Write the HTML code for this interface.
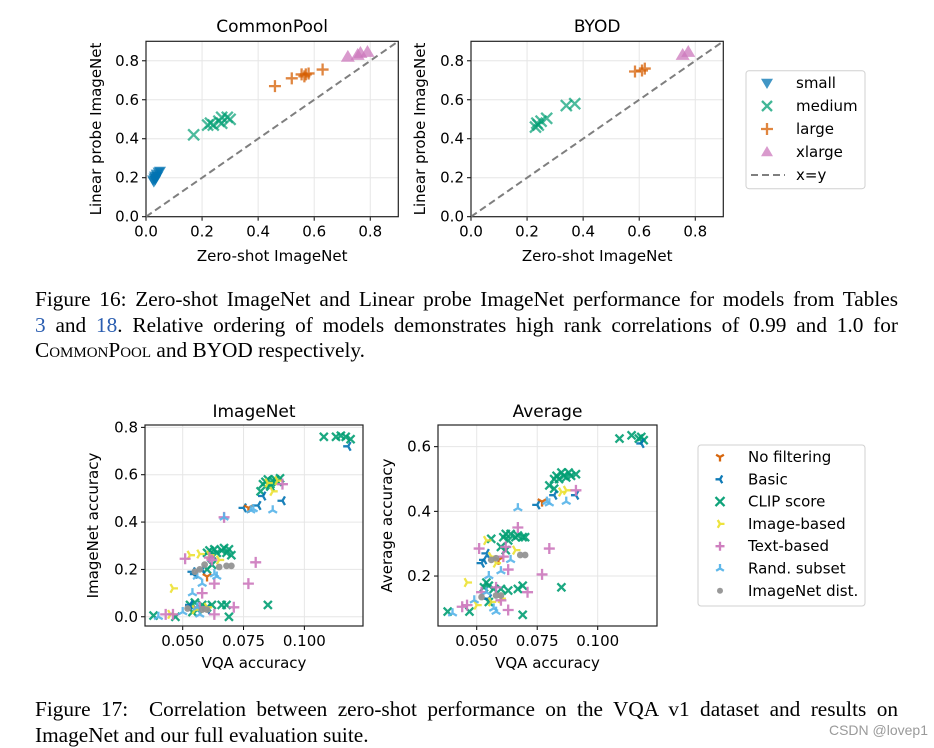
<!DOCTYPE html>
<html><head><meta charset="utf-8">
<style>
html,body{margin:0;padding:0;background:#fff;}
body{width:934px;height:745px;position:relative;overflow:hidden;}
svg{position:absolute;left:0;top:0;}
.cap{position:absolute;left:35px;width:863px;font-family:"Liberation Serif",serif;font-size:21.3px;color:#000;line-height:25.5px;}
.ln{display:block;white-space:nowrap;text-align:justify;text-align-last:justify;}
.ll{display:block;white-space:nowrap;}
.ref{color:#2a5db0;}
.sc{font-variant:small-caps;}
.wm{position:absolute;right:6px;top:722px;font-family:"Liberation Sans",sans-serif;font-size:14px;color:#9a9a9a;}
</style></head><body>
<svg id="fig" width="934" height="745" font-family="DejaVu Sans, Liberation Sans, sans-serif"></svg>
<div class="cap" style="top:287px"><span class="ln">Figure 16: Zero-shot ImageNet and Linear probe ImageNet performance for models from Tables</span><span class="ln"><span class="ref">3</span> and <span class="ref">18</span>. Relative ordering of models demonstrates high rank correlations of 0.99 and 1.0 for</span><span class="ll"><span class="sc">CommonPool</span> and BYOD respectively.</span></div>
<div class="cap" style="top:697px"><span class="ln">Figure 17: &nbsp;Correlation between zero-shot performance on the VQA v1 dataset and results on</span><span class="ll">ImageNet and our full evaluation suite.</span></div>
<div class="wm">CSDN @lovep1</div>
<script>
// ---------- Figure 16 data ----------
const cpSmallX=[0.025,0.028,0.03,0.032,0.035,0.038,0.04,0.045,0.05,0.033];
const cpSmallY=[0.19,0.18,0.2,0.21,0.2,0.22,0.21,0.23,0.235,0.19];
const cpMedX=[0.17,0.22,0.23,0.24,0.26,0.27,0.27,0.29,0.30];
const cpMedY=[0.42,0.47,0.48,0.47,0.49,0.48,0.51,0.51,0.50];
const cpLargeX=[0.46,0.52,0.555,0.565,0.57,0.58,0.63];
const cpLargeY=[0.67,0.71,0.73,0.72,0.73,0.735,0.755];
const cpXlX=[0.72,0.755,0.765,0.79];
const cpXlY=[0.82,0.83,0.84,0.845];
const byMedX=[0.23,0.235,0.24,0.25,0.27,0.34,0.37];
const byMedY=[0.46,0.48,0.47,0.49,0.505,0.57,0.58];
const byLargeX=[0.585,0.61,0.62];
const byLargeY=[0.745,0.75,0.76];
const byXlX=[0.755,0.775];
const byXlY=[0.83,0.845];
const topTicks=[0.0,0.2,0.4,0.6,0.8];
const topTickLabels=["0.0","0.2","0.4","0.6","0.8"];
// ---------- Figure 17 data (ImageNet) ----------
const inClipX=[0.108,0.113,0.115,0.117,0.119,0.082,0.083,0.084,0.085,0.086,0.087,0.088,0.089,0.09,0.086,0.060,0.061,0.062,0.063,0.064,0.066,0.067,0.068,0.069,0.070,0.062,0.060,0.053,0.055,0.056,0.058,0.060,0.062,0.066,0.068,0.038,0.047,0.069,0.085,0.054];
const inClipY=[0.76,0.76,0.765,0.76,0.75,0.53,0.56,0.57,0.58,0.56,0.575,0.58,0.57,0.585,0.55,0.27,0.28,0.26,0.285,0.27,0.28,0.29,0.27,0.285,0.26,0.22,0.2,0.05,0.06,0.03,0.05,0.04,0.05,0.05,0.05,0.005,0.0,0.0,0.05,0.02];
const inBasicX=[0.118,0.091,0.083,0.081,0.075,0.054,0.055,0.058,0.053,0.060];
const inBasicY=[0.72,0.49,0.51,0.47,0.46,0.19,0.18,0.2,0.05,0.03];
const inNoneX=[0.077,0.060];
const inNoneY=[0.46,0.17];
const inImgX=[0.085,0.087,0.089,0.046,0.053,0.057,0.061,0.065,0.055,0.060,0.045];
const inImgY=[0.565,0.53,0.575,0.12,0.26,0.265,0.26,0.24,0.03,0.04,0.01];
const inTextX=[0.091,0.067,0.080,0.077,0.063,0.058,0.051,0.062,0.061,0.063,0.071,0.043,0.046,0.057];
const inTextY=[0.56,0.42,0.23,0.14,0.14,0.1,0.245,0.24,0.25,0.01,0.04,0.01,0.01,0.04];
const inRandX=[0.067,0.078,0.079,0.087,0.056,0.058,0.063,0.064,0.054,0.040,0.050,0.056,0.057];
const inRandY=[0.42,0.45,0.455,0.45,0.17,0.14,0.18,0.17,0.1,0.0,0.02,0.04,0.01];
const inDistX=[0.052,0.058,0.060,0.057,0.059,0.065,0.068,0.070,0.055];
const inDistY=[0.035,0.03,0.03,0.2,0.22,0.21,0.215,0.215,0.19];
// ---------- Figure 17 data (Average) ----------
const avClipX=[0.109,0.114,0.117,0.119,0.118,0.080,0.082,0.083,0.084,0.085,0.086,0.087,0.088,0.089,0.091,0.082,0.056,0.061,0.062,0.063,0.064,0.066,0.067,0.069,0.070,0.060,0.062,0.053,0.055,0.054,0.057,0.060,0.063,0.067,0.069,0.038,0.047,0.069,0.085,0.055];
const avClipY=[0.625,0.635,0.625,0.62,0.63,0.48,0.5,0.51,0.5,0.52,0.51,0.505,0.52,0.51,0.515,0.47,0.315,0.32,0.33,0.31,0.33,0.32,0.325,0.32,0.32,0.29,0.28,0.165,0.17,0.18,0.16,0.16,0.155,0.16,0.17,0.09,0.09,0.08,0.165,0.12];
const avBasicX=[0.118,0.091,0.082,0.075,0.053,0.054,0.052,0.055];
const avBasicY=[0.61,0.45,0.45,0.42,0.25,0.27,0.24,0.13];
const avNoneX=[0.077,0.059];
const avNoneY=[0.43,0.25];
const avImgX=[0.085,0.087,0.046,0.054,0.056,0.058,0.066,0.056,0.060,0.050];
const avImgY=[0.46,0.465,0.18,0.31,0.26,0.24,0.28,0.12,0.13,0.11];
const avTextX=[0.091,0.067,0.080,0.077,0.063,0.063,0.051,0.062,0.061,0.071,0.044,0.046,0.052,0.058,0.060];
const avTextY=[0.465,0.35,0.285,0.205,0.22,0.095,0.285,0.29,0.26,0.15,0.105,0.11,0.15,0.165,0.125];
const avRandX=[0.067,0.079,0.080,0.087,0.055,0.060,0.064,0.054,0.040,0.049,0.057,0.058];
const avRandY=[0.41,0.43,0.425,0.43,0.2,0.215,0.25,0.15,0.085,0.125,0.1,0.09];
const avDistX=[0.052,0.058,0.060,0.056,0.058,0.068,0.070];
const avDistY=[0.135,0.14,0.14,0.25,0.255,0.265,0.265];
const vqaTicks=[0.05,0.075,0.1];
const vqaTickLabels=["0.050","0.075","0.100"];
const inYTicks=[0,0.2,0.4,0.6,0.8];
const inYTickLabels=["0.0","0.2","0.4","0.6","0.8"];
const avYTicks=[0.2,0.4,0.6];
const avYTickLabels=["0.2","0.4","0.6"];

const NS="http://www.w3.org/2000/svg";
const svg=document.getElementById('fig');
function mk(tag,attrs,parent){const e=document.createElementNS(NS,tag);for(const k in attrs)e.setAttribute(k,attrs[k]);(parent||svg).appendChild(e);return e;}
function txt(x,y,s,size,anchor,parent,rot){const t=mk('text',{x:x,y:y,'font-size':size,'text-anchor':anchor||'middle',fill:'#000'},parent);if(rot)t.setAttribute('transform','rotate(-90 '+x+' '+y+')');t.textContent=s;return t;}

const C={blue:'#0173b2',green:'#029e73',orange:'#d55e00',pink:'#cc78bc',yellow:'#ece133',lblue:'#56b4e9',gray:'#949494'};

function marker(g,shape,x,y,col,r,op){
  let e;
  if(shape==='tdown'){e=mk('path',{d:`M${x-r} ${y-r*0.7}L${x+r} ${y-r*0.7}L${x} ${y+r}Z`,fill:col,'fill-opacity':op},g);}
  else if(shape==='tup'){e=mk('path',{d:`M${x-r} ${y+r*0.7}L${x+r} ${y+r*0.7}L${x} ${y-r}Z`,fill:col,'fill-opacity':op},g);}
  else if(shape==='x'){e=mk('path',{d:`M${x-r} ${y-r}L${x+r} ${y+r}M${x-r} ${y+r}L${x+r} ${y-r}`,stroke:col,'stroke-width':2.3,'stroke-opacity':op,fill:'none'},g);}
  else if(shape==='plus'){e=mk('path',{d:`M${x-r} ${y}L${x+r} ${y}M${x} ${y-r}L${x} ${y+r}`,stroke:col,'stroke-width':2.3,'stroke-opacity':op,fill:'none'},g);}
  else if(shape==='circle'){e=mk('circle',{cx:x,cy:y,r:r*0.75,fill:col,'fill-opacity':op},g);}
  else {
    const ang={tridown:90,trileft:180,triright:0,triup:-90}[shape];
    let d='';
    for(let i=0;i<3;i++){const a=(ang+i*120)*Math.PI/180;d+=`M${x} ${y}L${x+r*Math.cos(a)} ${y+r*Math.sin(a)}`;}
    e=mk('path',{d:d,stroke:col,'stroke-width':2.3,fill:'none','stroke-opacity':op},g);
  }
  return e;
}

function axes(name,L,T,R,B,xmin,xmax,ymin,ymax,xt,xtl,yt,ytl,title,xlabel,ylabel,ylabX,titleY,xlabY){
  const g=mk('g',{});
  
  
  const sx=v=>L+(v-xmin)/(xmax-xmin)*(R-L);
  const sy=v=>B-(v-ymin)/(ymax-ymin)*(B-T);
  xt.forEach((v,i)=>{const x=sx(v);
    const gl=mk('line',{x1:x,x2:x,y1:T,y2:B,stroke:'#e6e6e6','stroke-width':1},g);
    
    mk('line',{x1:x,x2:x,y1:B,y2:B+4,stroke:'#000'},g);
    const t=txt(x,B+20,xtl[i],15,'middle',g);
    
  });
  yt.forEach((v,i)=>{const y=sy(v);
    const gl=mk('line',{x1:L,x2:R,y1:y,y2:y,stroke:'#e6e6e6','stroke-width':1},g);
    
    mk('line',{x1:L-4,x2:L,y1:y,y2:y,stroke:'#000'},g);
    const t=txt(L-7,y+5,ytl[i],15,'end',g);
    
  });
  const f=mk('rect',{x:L,y:T,width:R-L,height:B-T,fill:'none',stroke:'#222','stroke-width':1.2},g);
  
  const tt=txt((L+R)/2,titleY,title,17,'middle',g);
  
  const xl=txt((L+R)/2,xlabY,xlabel,15,'middle',g);
  
  const yl=txt(ylabX,(T+B)/2,ylabel,15,'middle',g,true);
  
  const clip='c'+name;
  const cp=mk('clipPath',{id:clip},g);mk('rect',{x:L,y:T,width:R-L,height:B-T},cp);
  const pg=mk('g',{'clip-path':'url(#'+clip+')'},g);
  return {g:pg,sx:sx,sy:sy,L:L,T:T,R:R,B:B};
}
function series(ax,xs,ys,shape,col,r,op,name){
  const g=mk('g',{},ax.g);
  
  
  xs.forEach((v,i)=>{const m=marker(g,shape,ax.sx(v),ax.sy(ys[i]),col,r,op);
    
  });
}
function diag(ax){const l=mk('line',{x1:ax.sx(0),y1:ax.sy(0),x2:ax.sx(0.9),y2:ax.sy(0.9),stroke:'#7f7f7f','stroke-width':2,'stroke-dasharray':'7,4'},ax.g);
  }

// Figure 16
const a1=axes('commonpool-chart',146,41.3,398.3,216.7,0,0.9,0,0.9,topTicks,topTickLabels,topTicks,topTickLabels,'CommonPool','Zero-shot ImageNet','Linear probe ImageNet',101,32,261);
diag(a1);
series(a1,cpSmallX,cpSmallY,'tdown',C.blue,6,0.75,'small-series');
series(a1,cpMedX,cpMedY,'x',C.green,5.5,0.7,'medium-series');
series(a1,cpLargeX,cpLargeY,'plus',C.orange,6,0.75,'large-series');
series(a1,cpXlX,cpXlY,'tup',C.pink,7,0.75,'xlarge-series');
const a2=axes('byod-chart',471,41.3,723.3,216.7,0,0.9,0,0.9,topTicks,topTickLabels,topTicks,topTickLabels,'BYOD','Zero-shot ImageNet','Linear probe ImageNet',425,32,261);
diag(a2);
series(a2,byMedX,byMedY,'x',C.green,5.5,0.7,'medium-series');
series(a2,byLargeX,byLargeY,'plus',C.orange,6,0.75,'large-series');
series(a2,byXlX,byXlY,'tup',C.pink,7,0.75,'xlarge-series');

// legend 16
const lg1=mk('g',{});


mk('rect',{x:746,y:70.7,width:119,height:118,rx:3,fill:'#fff',stroke:'#d0d0d0'},lg1);
const L1=[['tdown',C.blue,'small'],['x',C.green,'medium'],['plus',C.orange,'large'],['tup',C.pink,'xlarge']];
L1.forEach((e,i)=>{const y=83+i*23;
  const it=mk('g',{},lg1);
  
  marker(it,e[0],767,y,e[1],e[0]==='x'?5:6,0.75);
  txt(796,y+5,e[2],15,'start',it);});
const dl=mk('g',{},lg1);

mk('line',{x1:751,x2:785,y1:175,y2:175,stroke:'#7f7f7f','stroke-width':2,'stroke-dasharray':'7,4'},dl);
txt(796,180,'x=y',15,'start',dl);

// Figure 17
const b1=axes('imagenet-vqa-chart',145,425,363,626,0.0345,0.1241,-0.039,0.81,vqaTicks,vqaTickLabels,inYTicks,inYTickLabels,'ImageNet','VQA accuracy','ImageNet accuracy',98,417,668);
const b2=axes('average-vqa-chart',438,425,657,626,0.034,0.1245,0.0455,0.667,vqaTicks,vqaTickLabels,avYTicks,avYTickLabels,'Average','VQA accuracy','Average accuracy',392,417,668);
[[b1,inClipX,inClipY,inBasicX,inBasicY,inNoneX,inNoneY,inImgX,inImgY,inTextX,inTextY,inRandX,inRandY,inDistX,inDistY],
 [b2,avClipX,avClipY,avBasicX,avBasicY,avNoneX,avNoneY,avImgX,avImgY,avTextX,avTextY,avRandX,avRandY,avDistX,avDistY]].forEach(s=>{
  series(s[0],s[1],s[2],'x',C.green,4,0.9,'clip-score-series');
  series(s[0],s[3],s[4],'trileft',C.blue,5,0.9,'basic-series');
  series(s[0],s[5],s[6],'tridown',C.orange,5,0.9,'no-filtering-series');
  series(s[0],s[7],s[8],'triright',C.yellow,5,0.9,'image-based-series');
  series(s[0],s[9],s[10],'plus',C.pink,5.5,0.9,'text-based-series');
  series(s[0],s[11],s[12],'triup',C.lblue,5,0.9,'rand-subset-series');
  series(s[0],s[13],s[14],'circle',C.gray,4.5,0.95,'imagenet-dist-series');
});
// legend 17
const lg2=mk('g',{});


mk('rect',{x:698,y:445,width:167,height:161,rx:3,fill:'#fff',stroke:'#d0d0d0'},lg2);
const L2=[['tridown',C.orange,'No filtering'],['trileft',C.blue,'Basic'],['x',C.green,'CLIP score'],['triright',C.yellow,'Image-based'],['plus',C.pink,'Text-based'],['triup',C.lblue,'Rand. subset'],['circle',C.gray,'ImageNet dist.']];
L2.forEach((e,i)=>{const y=457+i*22.3;
  const it=mk('g',{},lg2);
  
  marker(it,e[0],720,y,e[1],e[0]==='circle'?4:4.5,0.95);
  txt(748,y+5,e[2],15,'start',it);});
</script>
</body></html>
